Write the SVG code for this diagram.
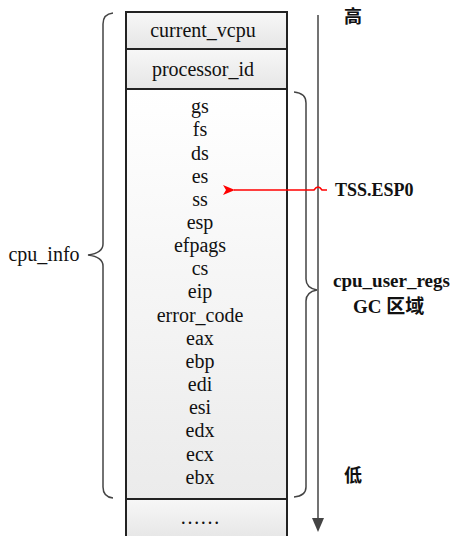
<svg xmlns="http://www.w3.org/2000/svg" width="450" height="536" viewBox="0 0 450 536">
<defs>
<linearGradient id="gGray" x1="0" y1="0" x2="0" y2="1"><stop offset="0" stop-color="#f7f7f7"/><stop offset="1" stop-color="#e6e6e6"/></linearGradient>
<linearGradient id="gMain" x1="0" y1="0" x2="0" y2="1"><stop offset="0" stop-color="#ffffff"/><stop offset="1" stop-color="#ebebeb"/></linearGradient>
<marker id="redHead" viewBox="0 0 12 10" refX="1" refY="5" markerWidth="12" markerHeight="10" markerUnits="userSpaceOnUse" orient="auto-start-reverse"><path d="M0,5 L12,0 L9,5 L12,10 Z" fill="#ff0000"/></marker>
<marker id="grayHead" viewBox="0 0 12 14" refX="6" refY="0" markerWidth="12" markerHeight="14" markerUnits="userSpaceOnUse" orient="0"><path d="M0,0 L12,0 L6,14 Z" fill="#444"/></marker>
</defs>
<style>
.cell{stroke:#222;stroke-width:2}
.t{font-family:"Liberation Serif","Times New Roman",serif;font-size:20px;fill:#111;text-anchor:middle}
.b{font-family:"Liberation Serif","Times New Roman","Noto Sans CJK SC",serif;font-size:18px;font-weight:bold;fill:#111}
.brace{fill:none;stroke:#444;stroke-width:1.5}
</style>
<rect x="0" y="0" width="450" height="536" fill="#fff"/>
<g id="row-current_vcpu"><rect class="cell" x="126" y="12" width="161" height="37" fill="url(#gGray)"/><text class="t" x="203" y="37">current_vcpu</text></g>
<g id="row-processor_id"><rect class="cell" x="126" y="49" width="161" height="40" fill="url(#gGray)"/><text class="t" x="203" y="76">processor_id</text></g>
<g id="cpu_user_regs-block"><rect class="cell" x="126" y="89" width="161" height="410" fill="url(#gMain)"/>
<text class="t" x="200" y="113">gs</text>
<text class="t" x="200" y="136">fs</text>
<text class="t" x="200" y="160">ds</text>
<text class="t" x="200" y="183">es</text>
<text class="t" x="200" y="206">ss</text>
<text class="t" x="200" y="229">esp</text>
<text class="t" x="200" y="252">efpags</text>
<text class="t" x="200" y="275">cs</text>
<text class="t" x="200" y="298">eip</text>
<text class="t" x="200" y="322">error_code</text>
<text class="t" x="200" y="345">eax</text>
<text class="t" x="200" y="368">ebp</text>
<text class="t" x="200" y="391">edi</text>
<text class="t" x="200" y="414">esi</text>
<text class="t" x="200" y="437">edx</text>
<text class="t" x="200" y="461">ecx</text>
<text class="t" x="200" y="484">ebx</text>
</g>
<g id="row-more"><rect class="cell" x="126" y="499" width="161" height="40" fill="url(#gGray)"/><text class="t" x="200" y="524">……</text></g>
<g id="cpu_info"><path class="brace" d="M113,13 Q103,14 103,24 L103,244 Q103,253 88,255 Q103,257 103,266 L103,487 Q103,497 113,498"/><text class="t" x="44" y="261">cpu_info</text></g>
<g id="cpu_user_regs"><path class="brace" d="M294,92 Q306,93 306,103 L306,279 Q306,288 317,290 Q306,292 306,301 L306,487 Q306,496 294,497"/><text class="b" x="333" y="287" style="font-size:19px">cpu_user_regs</text><text class="b" x="353" y="313" style="font-size:19px">GC 区域</text></g>
<g id="high"><text class="b" x="344" y="23">高</text></g>
<g id="low"><text class="b" x="344" y="482">低</text></g>
<g id="tss"><text class="b" x="335" y="196">TSS.ESP0</text></g>
<g id="connectors">
<line x1="318" y1="15" x2="318" y2="518" stroke="#444" stroke-width="1.5" marker-end="url(#grayHead)"/>
<path d="M327,190 L322,190 Q318,184 314,190 L234,190" fill="none" stroke="#ff0000" stroke-width="1.5" marker-end="url(#redHead)"/>
</g>
</svg>
